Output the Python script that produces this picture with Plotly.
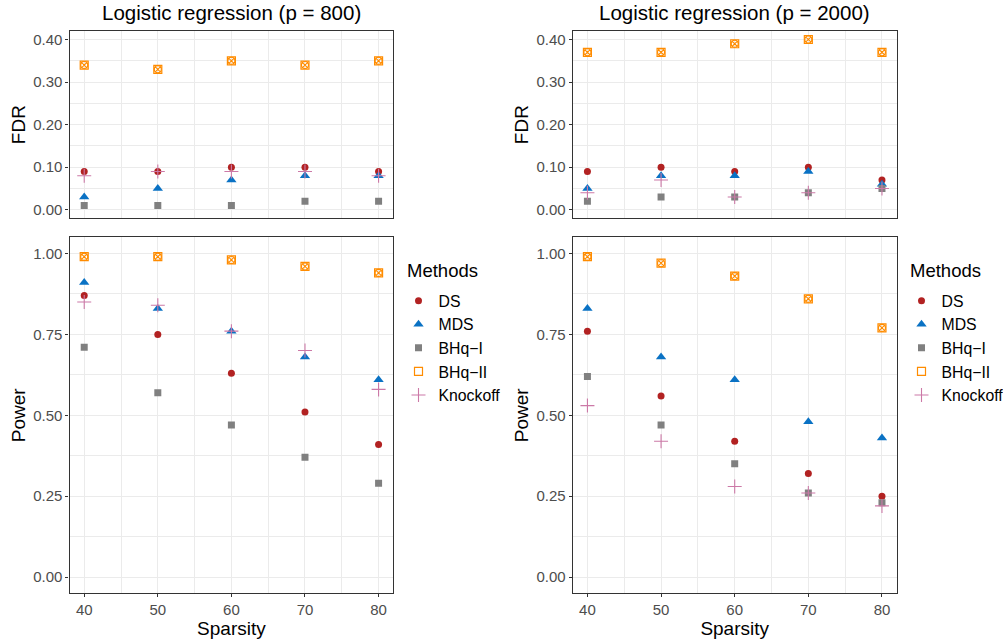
import plotly.graph_objects as go

sparsity = [40, 50, 60, 70, 80]
methods = ["DS", "MDS", "BHq\u2212I", "BHq\u2212II", "Knockoff"]

# p = 800
fdr_800 = {
    "DS": [0.09, 0.09, 0.10, 0.10, 0.09],
    "MDS": [0.03, 0.05, 0.07, 0.08, 0.08],
    "BHq\u2212I": [0.01, 0.01, 0.01, 0.02, 0.02],
    "BHq\u2212II": [0.34, 0.33, 0.35, 0.34, 0.35],
    "Knockoff": [0.08, 0.09, 0.09, 0.09, 0.08],
}
power_800 = {
    "DS": [0.87, 0.75, 0.63, 0.51, 0.41],
    "MDS": [0.91, 0.83, 0.76, 0.68, 0.61],
    "BHq\u2212I": [0.71, 0.57, 0.47, 0.37, 0.29],
    "BHq\u2212II": [0.99, 0.99, 0.98, 0.96, 0.94],
    "Knockoff": [0.85, 0.84, 0.76, 0.70, 0.58],
}
# p = 2000
fdr_2000 = {
    "DS": [0.09, 0.10, 0.09, 0.10, 0.07],
    "MDS": [0.05, 0.08, 0.08, 0.09, 0.06],
    "BHq\u2212I": [0.02, 0.03, 0.03, 0.04, 0.05],
    "BHq\u2212II": [0.37, 0.37, 0.39, 0.40, 0.37],
    "Knockoff": [0.04, 0.07, 0.03, 0.04, 0.05],
}
power_2000 = {
    "DS": [0.76, 0.56, 0.42, 0.32, 0.25],
    "MDS": [0.83, 0.68, 0.61, 0.48, 0.43],
    "BHq\u2212I": [0.62, 0.47, 0.35, 0.26, 0.23],
    "BHq\u2212II": [0.99, 0.97, 0.93, 0.86, 0.77],
    "Knockoff": [0.53, 0.42, 0.28, 0.26, 0.22],
}

fdr_ticks = [0.0, 0.1, 0.2, 0.3, 0.4]
power_ticks = [0.0, 0.25, 0.5, 0.75, 1.0]
titles = ["Logistic regression (p = 800)", "Logistic regression (p = 2000)"]

styles = {
    "DS": dict(symbol="circle", color="#B22222", size=7, lw=0),
    "MDS": dict(symbol="triangle-up", color="#0A72C4", size=9, lw=0),
    "BHq\u2212I": dict(symbol="square", color="#808080", size=7, lw=0),
    "BHq\u2212II": dict(symbol="square-open", color="#FF8C00", size=8, lw=1.2),
    "Knockoff": dict(symbol="cross-thin-open", color="#CC79A7", size=10, lw=1.1),
}

FONT = "Liberation Sans, Arial, sans-serif"
W, H = 1003, 643

fig = go.Figure()

panels = [
    ("x", "y", power_800, "legend", True),
    ("x2", "y2", fdr_800, "legend", False),
    ("x3", "y3", power_2000, "legend2", True),
    ("x4", "y4", fdr_2000, "legend2", False),
]

for xa, ya, data, leg, show in panels:
    for m in methods:
        s = styles[m]
        fig.add_trace(go.Scatter(
            x=sparsity, y=data[m], mode="markers", name=m, xaxis=xa, yaxis=ya,
            marker=dict(symbol=s["symbol"], color=s["color"], size=s["size"],
                        line=dict(width=s["lw"], color=s["color"])),
            showlegend=show, legend=leg))
        if m == "BHq\u2212II":
            fig.add_trace(go.Scatter(
                x=sparsity, y=data[m], mode="markers", xaxis=xa, yaxis=ya,
                marker=dict(symbol="circle-x-open", color=s["color"], size=7,
                            line=dict(width=1.1, color=s["color"])),
                showlegend=False, hoverinfo="skip"))

def px_dom_x(a, b):
    return [a / W, b / W]

def px_dom_y(top, bottom):
    return [1 - bottom / H, 1 - top / H]

xl = px_dom_x(69.5, 393.3)
xr = px_dom_x(572.7, 896.7)
yt = px_dom_y(31.0, 218.3)
yb = px_dom_y(237.3, 593.3)

grid_col = "#EBEBEB"
tickfont = dict(family=FONT, size=15, color="#4D4D4D")
titlefont = dict(family=FONT, size=19, color="black")

def xaxis(domain, anchor, labels):
    return dict(domain=domain, anchor=anchor, range=[38, 82],
                tickvals=sparsity, showticklabels=labels,
                ticks="outside" if labels else "", ticklen=3, tickwidth=1, tickcolor="#333333",
                showgrid=True, gridcolor=grid_col, gridwidth=1.1,
                minor=dict(tickvals=[45, 55, 65, 75], showgrid=True, gridcolor=grid_col, gridwidth=0.6),
                showline=True, linecolor="#333333", linewidth=1.1, mirror=True,
                zeroline=False, tickfont=tickfont,
                title=dict(text="Sparsity" if labels else "", font=titlefont, standoff=0))

def yaxis(domain, anchor, rng, ticks, title, minor):
    return dict(domain=domain, anchor=anchor, range=rng, tickvals=ticks,
                tickformat=".2f", ticks="outside", ticklen=3, tickwidth=1, tickcolor="#333333",
                showgrid=True, gridcolor=grid_col, gridwidth=1.1,
                minor=dict(tickvals=minor, showgrid=True, gridcolor=grid_col, gridwidth=0.6),
                showline=True, linecolor="#333333", linewidth=1.1, mirror=True,
                zeroline=False, tickfont=tickfont,
                title=dict(text=title, font=titlefont, standoff=2))

fdr_minor = [0.05, 0.15, 0.25, 0.35]
pow_minor = [0.125, 0.375, 0.625, 0.875]

legend_common = dict(yanchor="top", y=1 - 284 / H, xanchor="left",
                     font=dict(family=FONT, size=15.8, color="black"),
                     bgcolor="rgba(0,0,0,0)", tracegroupgap=0, itemsizing="trace")

fig.update_layout(
    width=W, height=H,
    margin=dict(l=0, r=0, t=0, b=0, autoexpand=False),
    paper_bgcolor="white", plot_bgcolor="white",
    font=dict(family=FONT),
    xaxis=xaxis(xl, "y", True),
    yaxis=yaxis(yb, "x", [-0.05, 1.05], power_ticks, "Power", pow_minor),
    xaxis2=xaxis(xl, "y2", False),
    yaxis2=yaxis(yt, "x2", [-0.02, 0.42], fdr_ticks, "FDR", fdr_minor),
    xaxis3=xaxis(xr, "y3", True),
    yaxis3=yaxis(yb, "x3", [-0.05, 1.05], power_ticks, "Power", pow_minor),
    xaxis4=xaxis(xr, "y4", False),
    yaxis4=yaxis(yt, "x4", [-0.02, 0.42], fdr_ticks, "FDR", fdr_minor),
    legend=dict(x=398.5 / W, **legend_common),
    legend2=dict(x=901.5 / W, **legend_common),
)

for t, dom in zip(titles, [xl, xr]):
    fig.add_annotation(text=t, x=(dom[0] + dom[1]) / 2, y=1 - 12 / H,
                       xref="paper", yref="paper", xanchor="center", yanchor="middle",
                       showarrow=False, font=dict(family=FONT, size=20.5, color="black"))

for lx in [405, 908]:
    fig.add_annotation(text="Methods", x=lx / W, y=1 - 270 / H,
                       xref="paper", yref="paper", xanchor="left", yanchor="middle",
                       showarrow=False, font=dict(family=FONT, size=18.5, color="black"))

fig.write_html("out.html")
